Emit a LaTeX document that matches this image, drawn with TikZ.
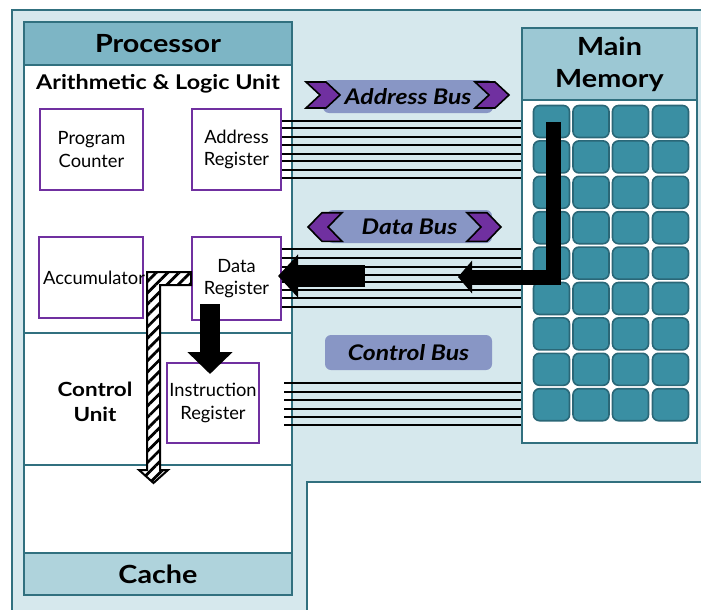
\documentclass[tikz,border=0pt]{standalone}
\usepackage{fontspec}
\setmainfont{Lato}[BoldFeatures={FakeStretch=1.15},BoldItalicFeatures={FakeStretch=1.15}]
\usetikzlibrary{arrows.meta,patterns.meta}

\definecolor{panel}{HTML}{D6E8ED}
\definecolor{edge}{HTML}{31707F}
\definecolor{headA}{HTML}{7DB5C5}
\definecolor{headB}{HTML}{9CC8D4}
\definecolor{cacheband}{HTML}{AFD3DC}
\definecolor{cellfill}{HTML}{3A8FA3}
\definecolor{celledge}{HTML}{2A6777}
\definecolor{buslab}{HTML}{8896C5}
\definecolor{regline}{HTML}{7030A0}

\begin{document}
\begin{tikzpicture}[x=1pt,y=-1pt,
  frame/.style={draw=edge,line width=2pt},
  reg/.style={draw=regline,line width=2pt,fill=white,inner sep=0pt,align=center,
    font=\fontsize{18.3}{22.5}\selectfont},
  regtext/.style={inner sep=0pt,font=\fontsize{18.3}{22.5}\selectfont},
  title/.style={font=\fontsize{25}{32}\selectfont\bfseries,align=center},
  busline/.style={line width=2pt,black},
  buslabel/.style={fill=buslab,rounded corners=6pt,inner sep=0pt,
    font=\fontsize{21.5}{24}\selectfont\bfseries\itshape},
  chevshape/.style={fill=regline,draw=black,line width=1.6pt,line join=miter},
  chevR/.pic={\path[chevshape] (0,-13) -- (20,-13) -- (34,0) -- (20,13) -- (0,13) -- (14,0) -- cycle;},
  cell/.style={fill=cellfill,draw=celledge,line width=1.6pt,rounded corners=6pt,
    minimum width=36pt,minimum height=32pt,inner sep=0pt},
  bigarrow/.style={line width=#1,black,line cap=butt,line join=miter},
]
\useasboundingbox (0,0) rectangle (701,610);

% outer panel
\path[fill=panel] (12,10) -- (710,10) -- (710,482) -- (307,482) -- (307,620) -- (12,620) -- cycle;
\draw[frame] (710,10) -- (12,10) -- (12,620);
\draw[frame] (710,482) -- (307,482) -- (307,620);

% processor
\node[frame,fill=white,inner sep=0pt,minimum width=268pt,minimum height=573pt] (proc) at (158,308.5) {};
\node[frame,fill=headA,inner sep=0pt,minimum width=268pt,minimum height=43pt,title] (prochead) at (158,43.5) {Processor};
\node[frame,fill=cacheband,inner sep=0pt,minimum width=268pt,minimum height=42pt,title] (cache) at (158,574) {Cache};
\draw[frame] (proc.west |- 0,333) -- (proc.east |- 0,333);
\draw[frame] (proc.west |- 0,465) -- (proc.east |- 0,465);
\node[font=\fontsize{20.3}{24}\selectfont\bfseries] (alu) at (158,84) {Arithmetic \& Logic Unit};
\node[font=\fontsize{19.5}{25}\selectfont\bfseries,align=center] (cu) at (95,402) {Control\\Unit};

% registers
\node[reg,minimum width=103pt,minimum height=81pt] (pc) at (91.5,149.5) {Program\\Counter};
\node[reg,minimum width=89pt,minimum height=81pt] (ar) at (236.5,149.5) {Address\\Register};
\node[reg,minimum width=104pt,minimum height=81pt] (acc) at (91,277.5) {};
\node[regtext] (acctext) at ([xshift=3pt]acc.center) {Accumulator};
\node[reg,minimum width=89pt,minimum height=83pt] (dr) at (236.5,278.5) {Data\\Register};
\node[reg,minimum width=92pt,minimum height=80pt] (ir) at (213,403) {Instruction\\Register};

% main memory
\node[frame,fill=white,inner sep=0pt,minimum width=175pt,minimum height=415pt] (mem) at (609.5,235.5) {};
\node[frame,fill=headB,inner sep=0pt,minimum width=175pt,minimum height=72pt,title] (memhead) at (609.5,64) {Main\\Memory};
\foreach \c/\x in {1/551.5,2/591,3/630.5,4/670.5}
  \foreach \r in {0,...,8}
    \node[cell] (cell-\c-\r) at (\x,121.5+35.4*\r) {};

% buses
\foreach \y in {121,128,137,145,154,161,170,178}
  \draw[busline] (ar.east |- 0,\y) -- (mem.west |- 0,\y);
\foreach \y in {249,258,267,275,282,290,298,307}
  \draw[busline] (dr.east |- 0,\y) -- (mem.west |- 0,\y);
\foreach \y in {383,392,400,409,417,425}
  \draw[busline] (ir.east |- 0,\y) ++(24,0) -- (mem.west |- 0,\y);

% bus labels
\node[buslabel,minimum width=170pt,minimum height=33pt] (abus) at (408,96.5) {Address Bus};
\pic at (306,95) {chevR};
\pic at (475,95) {chevR};
\node[buslabel,minimum width=165pt,minimum height=33pt] (dbus) at (409.5,226.5) {Data Bus};
\pic[xscale=-1,yscale=1.1] at (342,227) {chevR};
\pic[yscale=1.1] at (467,227) {chevR};
\node[buslabel,minimum width=167pt,minimum height=35pt] (cbus) at (408.5,352.5) {Control Bus};

% data flow arrows
\coordinate (mtop) at (553,122);
\coordinate (mbend) at (553,277);
\coordinate (mtip) at (458,277);
\draw[bigarrow=15pt,-{Triangle[length=14pt,width=32pt]}] (mtop) -- (mbend) -- (mtip);
\coordinate (dstart) at (365,276);
\draw[bigarrow=22pt,-{Triangle[length=20pt,width=42pt]}] (dstart) -- ([xshift=-4pt]dr.east |- dstart);
\draw[bigarrow=20pt,-{Triangle[length=22pt,width=44pt]}]
  ([yshift=17pt]dr.south -| 210,0) -- ([yshift=-12pt]ir.north -| 210,0);

% hatched path from the data register to the cache
\path[draw=black,line width=2pt,line join=miter,preaction={fill=white},
  pattern={Lines[angle=45,distance=8pt,line width=2.8pt]}]
  (dr.west |- 0,272) -- (147,272) -- (147,470) -- (139,470) -- (153.5,483) -- (168,470)
  -- (160,470) -- (160,285) -- (dr.west |- 0,285) -- cycle;
\end{tikzpicture}
\end{document}
